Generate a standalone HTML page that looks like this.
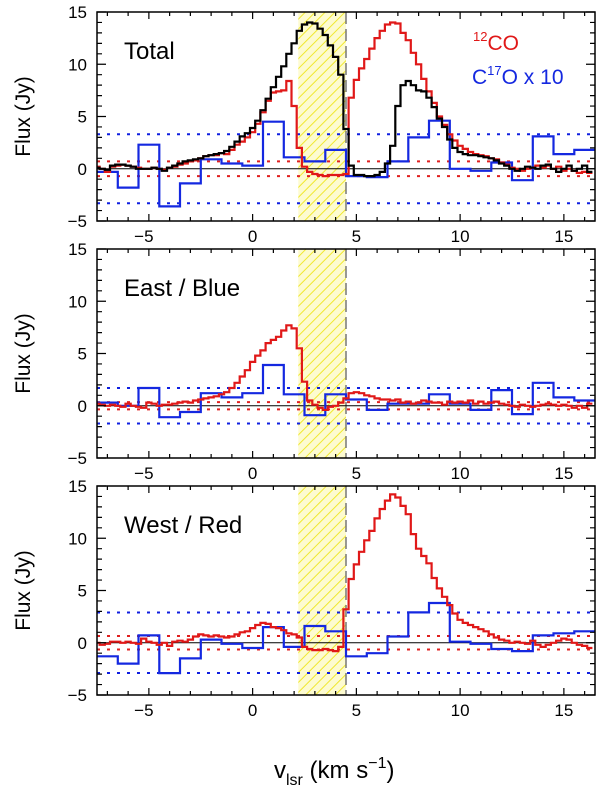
<!DOCTYPE html>
<html><head><meta charset="utf-8"><style>
html,body{margin:0;padding:0;background:#fff;}
svg{display:block;font-family:"Liberation Sans",Arial,sans-serif;}
</style></head><body>
<svg id="chart" width="600" height="786" viewBox="0 0 600 786" xmlns="http://www.w3.org/2000/svg">
<defs>
<pattern id="hatch" patternUnits="userSpaceOnUse" width="7" height="7" patternTransform="rotate(45)">
<rect width="7" height="7" fill="#fdfbd0"/>
<line x1="0" y1="0" x2="0" y2="7" stroke="#f0e830" stroke-width="2"/>
</pattern>
</defs>
<g id="panels"></g>
<text x="274" y="778" font-size="24">v<tspan font-size="16" dy="7">lsr</tspan><tspan dy="-7"> (km s</tspan><tspan font-size="16" dy="-10">−1</tspan><tspan dy="10">)</tspan></text>
<text x="473" y="50" font-size="21" fill="#e01818"><tspan font-size="13" dy="-9">12</tspan><tspan dy="9">CO</tspan></text>
<text x="472" y="84" font-size="21" fill="#1428e0">C<tspan font-size="13" dy="-9">17</tspan><tspan dy="9">O x 10</tspan></text>
</svg>
<script>
// channel data: 12CO start at v=-7.5, step 0.25 km/s; C17O bins centred on -7..16
const vStart = -7.5;
const chanStep = 0.25;
const binCenters = [-7,-6,-5,-4,-3,-2,-1,0,1,2,3,4,5,6,7,8,9,10,11,12,13,14,15,16];

const totalCO = [0.2,0.0,-0.3,0.2,0.3,0.4,0.3,0.2,0.1,0.0,
 0.0,0.1,0.0,-0.1,0.1,0.2,0.4,0.5,0.7,0.8,
 1.0,1.2,1.3,1.3,1.5,1.4,1.8,2.3,2.6,3.0,
 3.5,4.3,5.4,6.5,7.3,7.4,7.5,8.4,6.0,2.0,
 0.2,-0.3,-0.5,-0.6,-0.7,-0.6,-0.6,-0.6,
 -0.5,6.8,8.5,9.6,10.5,11.5,12.5,13.2,13.8,14.0,
 13.9,13.0,12.3,11.1,10.0,8.6,7.4,6.3,5.0,4.2,
 3.3,2.7,2.2,1.9,1.6,1.4,1.3,1.2,1.0,0.9,
 0.6,0.4,0.1,0.0,-0.2,0.0,0.1,0.3,0.1,0.3,
 0.0,0.2,-0.2,0.0,-0.2,-0.4,-0.3,-0.4];
const totalBlack = [0.1,0.0,-0.1,0.3,0.4,0.4,0.3,0.2,0.0,0.0,
 0.0,0.1,0.0,-0.2,0.1,0.3,0.5,0.7,0.8,0.9,
 1.0,1.2,1.3,1.4,1.5,1.7,2.1,2.6,3.1,3.4,
 3.9,4.6,5.6,6.7,7.8,8.8,9.8,11.0,12.0,13.2,
 13.8,14.0,13.9,13.4,12.8,11.8,10.7,9.0,
 3.8,0.3,-0.6,-0.6,-0.7,-0.7,-0.6,-0.3,0.5,2.2,
 6.0,8.0,8.4,8.0,7.5,7.4,6.8,5.9,4.8,4.0,
 2.8,2.0,1.6,1.4,1.3,1.3,1.2,1.1,1.0,0.8,
 0.5,0.3,0.0,-0.2,0.0,0.2,0.1,0.0,0.3,0.4,
 0.0,-0.3,0.0,0.3,-0.2,0.0,0.3,-0.3];
const totalC17O = [-0.3,-1.8,2.3,-3.6,-1.4,0.9,0.5,0.3,4.5,1.1,0.7,1.8,-0.7,-0.8,0.7,3.0,4.6,0.0,-0.2,0.6,-1.1,3.1,1.4,1.8];

const eastCO = [0.2,0.1,0.0,0.1,0.0,-0.1,0.2,0.0,-0.1,-0.2,
 0.3,0.2,0.0,0.1,0.1,0.2,0.3,0.4,0.3,0.5,
 0.6,0.7,0.8,0.9,1.1,1.3,1.7,2.2,2.8,3.4,
 4.2,4.8,5.3,6.0,6.3,6.6,7.2,7.7,7.4,5.5,
 2.3,0.5,0.1,-0.2,-0.4,-0.1,0.0,0.3,
 0.7,1.2,1.3,1.2,1.0,0.9,0.7,0.6,0.6,0.5,
 0.6,0.3,0.4,0.2,0.3,0.5,0.4,0.3,0.3,0.1,
 0.4,0.3,0.4,0.3,0.5,0.2,0.4,0.2,0.3,0.4,
 0.2,0.1,0.0,-0.1,0.1,0.0,-0.1,0.0,0.1,0.2,
 0.1,0.0,0.1,0.0,-0.2,0.0,-0.2,0.2];
const eastC17O = [0.3,0.0,1.7,-1.1,-0.6,1.2,0.8,1.2,3.9,1.1,-0.9,1.1,0.6,-0.4,0.2,0.2,1.1,0.2,-0.4,1.5,-0.8,2.2,0.8,0.5];

const westCO = [0.0,-0.2,-0.1,0.1,0.1,0.0,0.1,0.0,-0.1,0.4,
 0.1,0.0,-0.2,0.0,-0.3,0.1,0.2,0.1,0.3,0.6,
 0.8,0.7,0.6,0.7,0.6,0.5,0.6,0.8,1.0,1.1,
 1.4,1.7,1.9,1.8,1.5,1.4,1.2,0.9,0.8,0.5,
 -0.4,-0.6,-0.7,-0.7,-0.6,-0.7,-0.8,-0.4,
 3.2,6.1,7.5,8.7,9.8,10.7,11.9,12.8,13.6,14.2,
 13.9,13.1,12.3,10.4,9.0,8.3,7.6,6.2,5.2,4.4,
 3.6,2.8,2.2,1.9,1.7,1.5,1.3,1.1,0.8,0.5,
 0.3,0.2,0.0,0.1,0.0,-0.1,0.2,-0.2,-0.4,-0.2,
 0.0,0.2,0.4,0.3,0.0,-0.2,-0.3,-0.5];
const westC17O = [-1.3,-2.0,0.7,-2.9,-1.5,0.3,-0.1,-0.5,1.5,-0.4,1.6,1.1,-1.3,-1.0,0.6,2.9,3.8,0.1,-0.1,-0.6,-0.8,0.7,0.9,1.1];

const panelLabels = ["Total","East / Blue","West / Red"];
const coRms = [0.7,0.35,0.65];
const c17Rms = [3.3,1.7,2.9];
const xTicks = [-5,0,5,10,15];
const yTicks = [-5,0,5,10,15];
const bandLo = 2.2, bandHi = 4.5;

const NS = "http://www.w3.org/2000/svg";
const X0 = 97, X1 = 595, VMIN = -7.5, VMAX = 16.5;
const panelTops = [12, 249, 486];
const PH = 209, YMIN = -5, YMAX = 15;
const xs = v => X0 + (v - VMIN) / (VMAX - VMIN) * (X1 - X0);
function mk(tag, attrs, parent){ const e=document.createElementNS(NS,tag); for(const k in attrs) e.setAttribute(k,attrs[k]); parent.appendChild(e); return e; }
const root = document.getElementById('panels');

const panelData = [
 {co: totalCO, black: totalBlack, c17: totalC17O},
 {co: eastCO, black: null, c17: eastC17O},
 {co: westCO, black: null, c17: westC17O}
];

panelData.forEach((pd, p) => {
  const top = panelTops[p], bot = top + PH;
  const ys = y => bot - (y - YMIN) / (YMAX - YMIN) * PH;
  const g = mk('g', {}, root);
  
  
  const clipId = 'clip' + p;
  const cp = mk('clipPath', {id: clipId}, g);
  mk('rect', {x: X0, y: top, width: X1 - X0, height: PH}, cp);
  const band = mk('rect', {x: xs(bandLo), y: top, width: xs(bandHi) - xs(bandLo), height: PH, fill: 'url(#hatch)'}, g);
  
  
  const vl = mk('line', {x1: xs(bandHi), x2: xs(bandHi), y1: top, y2: bot, stroke: '#777', 'stroke-width': 1.5, 'stroke-dasharray': '12,5'}, g);
  
  
  const zl = mk('line', {x1: X0, x2: X1, y1: ys(0), y2: ys(0), stroke: '#000', 'stroke-width': 1}, g);
  
  
  [coRms[p], -coRms[p]].forEach(r => {
    const l = mk('line', {x1: X0, x2: X1, y1: ys(r), y2: ys(r), stroke: '#e02020', 'stroke-width': 2, 'stroke-dasharray': '3,7'}, g);
    
    
  });
  [c17Rms[p], -c17Rms[p]].forEach(r => {
    const l = mk('line', {x1: X0, x2: X1, y1: ys(r), y2: ys(r), stroke: '#1020e0', 'stroke-width': 2, 'stroke-dasharray': '3,7'}, g);
    
    
  });
  function chanPath(arr){
    let d = '';
    arr.forEach((val, i) => {
      const c = vStart + i * chanStep;
      const a = xs(c - chanStep / 2), b = xs(c + chanStep / 2), y = ys(val);
      d += (i === 0 ? 'M' : 'L') + a.toFixed(1) + ',' + y.toFixed(1) + 'L' + b.toFixed(1) + ',' + y.toFixed(1);
    });
    return d;
  }
  function binPath(arr){
    let d = '';
    arr.forEach((val, i) => {
      const c = binCenters[i], a = xs(c - 0.5), b = xs(c + 0.5), y = ys(val);
      d += (i === 0 ? 'M' : 'L') + a.toFixed(1) + ',' + y.toFixed(1) + 'L' + b.toFixed(1) + ',' + y.toFixed(1);
    });
    return d;
  }
  const sg = mk('g', {'clip-path': 'url(#' + clipId + ')'}, g);
  const bl = mk('path', {d: binPath(pd.c17), fill: 'none', stroke: '#1428e0', 'stroke-width': 2.2}, sg);
  
  
  const rd = mk('path', {d: chanPath(pd.co), fill: 'none', stroke: '#e01818', 'stroke-width': 2.2}, sg);
  
  
  if (pd.black) {
    const bk = mk('path', {d: chanPath(pd.black), fill: 'none', stroke: '#000', 'stroke-width': 2.2}, sg);
    
    
  }
  const fr = mk('rect', {x: X0, y: top, width: X1 - X0, height: PH, fill: 'none', stroke: '#000', 'stroke-width': 1.5}, g);
  
  
  let td = '';
  for (let v = -7; v <= 16; v++) {
    const L = (v % 5 === 0) ? 7 : 4, x = xs(v);
    td += `M${x},${bot}v${-L}M${x},${top}v${L}`;
  }
  for (let y = -5; y <= 15; y++) {
    const L = (y % 5 === 0) ? 9 : 5, yy = ys(y);
    td += `M${X0},${yy}h${L}M${X1},${yy}h${-L}`;
  }
  const tk = mk('path', {d: td, stroke: '#000', 'stroke-width': 1.2, fill: 'none'}, g);
  
  
  xTicks.forEach(v => {
    const t = mk('text', {x: xs(v) - (v < 0 ? 5 : 0), y: bot + 21, 'font-size': 17, 'text-anchor': 'middle'}, g);
    t.textContent = v < 0 ? '−' + Math.abs(v) : String(v);
    
    
  });
  yTicks.forEach(y => {
    const t = mk('text', {x: 87, y: ys(y) + 6, 'font-size': 17, 'text-anchor': 'end'}, g);
    t.textContent = y < 0 ? '−' + Math.abs(y) : String(y);
    
    
  });
  const yt = mk('text', {x: 0, y: 0, 'font-size': 21, 'text-anchor': 'middle', transform: `translate(30,${top + PH / 2}) rotate(-90)`}, g);
  yt.textContent = 'Flux (Jy)';
  
  
  const lab = mk('text', {x: 124, y: top + 47, 'font-size': 24}, g);
  lab.textContent = panelLabels[p];
  
  
});
</script>
</body></html>
